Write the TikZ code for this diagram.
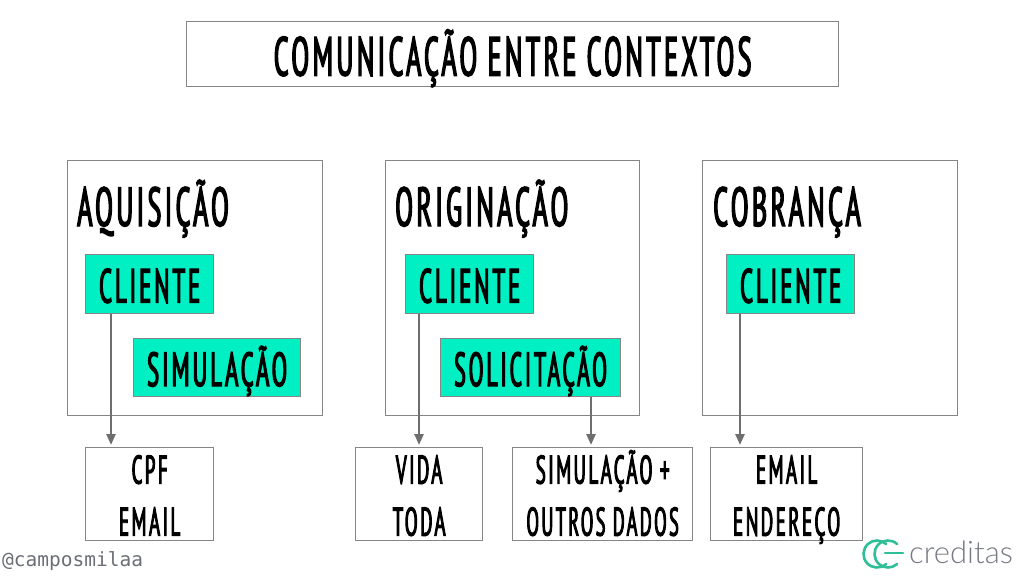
\documentclass[tikz,border=0pt]{standalone}
\usepackage{fontspec}
\usepackage{graphicx}
\usetikzlibrary{arrows.meta}
\setmainfont{PT Sans}
\newfontfamily\hand[FakeStretch=0.475,LetterSpace=6,FakeBold=2.4]{PT Sans}
\newfontfamily\handmono{DejaVu Sans Mono}
\newfontfamily\logofont{Lato Light}
\newcommand{\squeezed}[2]{\scalebox{#1}[1]{#2}}
\definecolor{tealbox}{HTML}{00F0C4}
\definecolor{edgegray}{HTML}{858585}
\definecolor{arrowgray}{HTML}{6E6E6E}
\definecolor{logogreen}{HTML}{2FBF98}
\definecolor{logogray}{HTML}{777A83}
\tikzset{
  x=1pt,y=-1pt,
  plainbox/.style={draw=edgegray,line width=1.3pt,fill=white,inner sep=0pt,text=black,anchor=north west},
  titlebox/.style={plainbox,text height=43pt,text depth=0pt,font=\hand\fontsize{55}{55}\selectfont},
  tealnode/.style={plainbox,fill=tealbox,text height=37pt,text depth=0pt,font=\hand\fontsize{48}{48}\selectfont},
  contextbox/.style={plainbox},
  infobox/.style={plainbox,align=center,text height=83pt,text depth=0pt,font=\hand\fontsize{40}{52}\selectfont},
  boxhead/.style={inner sep=0pt,anchor=base west,text=black,font=\hand\fontsize{55}{55}\selectfont},
  link/.style={draw=arrowgray,line width=2.4pt,-{Triangle[length=11pt,width=9pt]},shorten >=2pt}
}
\begin{document}
\begin{tikzpicture}
\useasboundingbox (0,0) rectangle (1024,576);
\node[titlebox,minimum width=652pt,minimum height=65pt] (title) at (186,21) {COMUNICAÇÃO ENTRE CONTEXTOS};
\node[contextbox,minimum width=255pt,minimum height=255pt] (aq) at (67,160) {};
\node[contextbox,minimum width=254pt,minimum height=255pt] (or) at (385,160) {};
\node[contextbox,minimum width=255pt,minimum height=255pt] (co) at (702,160) {};
\node[boxhead] (aqh) at (77,226) {AQUISIÇÃO};
\node[boxhead] (orh) at (395,226) {ORIGINAÇÃO};
\node[boxhead] (coh) at (713,226) {COBRANÇA};
\node[tealnode,minimum width=128pt,minimum height=59pt] (c1) at (85,254) {CLIENTE};
\node[tealnode,minimum width=167pt,minimum height=58pt] (s1) at (133,338) {SIMULAÇÃO};
\node[tealnode,minimum width=128pt,minimum height=59pt] (c2) at (405,254) {CLIENTE};
\node[tealnode,minimum width=180pt,minimum height=58pt] (s2) at (440,338) {\squeezed{0.96}{SOLICITAÇÃO}};
\node[tealnode,minimum width=128pt,minimum height=59pt] (c3) at (726,254) {CLIENTE};
\node[infobox,minimum width=128pt,minimum height=93pt] (i1) at (85,447) {CPF\\EMAIL};
\node[infobox,minimum width=127pt,minimum height=93pt] (i2) at (355,447) {VIDA\\TODA};
\node[infobox,minimum width=180pt,minimum height=93pt] (i3) at (512,447) {SIMULAÇÃO +\\\squeezed{0.97}{OUTROS DADOS}};
\node[infobox,minimum width=152pt,minimum height=93pt] (i4) at (710,447) {EMAIL\\ENDEREÇO};
\draw[link] (c1.south -| 111,0) -- (i1.north -| 111,0);
\draw[link] (c2.south -| 419,0) -- (i2.north -| 419,0);
\draw[link] (s2.south -| 591,0) -- (i3.north -| 591,0);
\draw[link] (c3.south -| 740,0) -- (i4.north -| 740,0);
\node[anchor=west,inner sep=0pt,text=logogray!90!black,font=\handmono\fontsize{19.5}{19.5}\selectfont] (handle) at (2,561) {@camposmilaa};
\draw[logogreen,line width=2.6pt,line cap=round] (877,554) ++(48:13.5) arc[start angle=48,end angle=312,radius=13.5];
\draw[logogreen,line width=2.6pt,line cap=round] (888,554) ++(-48:13.5) arc[start angle=-48,end angle=-312,radius=13.5];
\draw[logogreen,line width=2.6pt,line cap=round] (885,553) -- (903,553);
\node[anchor=west,inner sep=0pt,text=logogray,font=\logofont\fontsize{31}{31}\selectfont] (logo) at (909,552) {creditas};
\end{tikzpicture}
\end{document}
